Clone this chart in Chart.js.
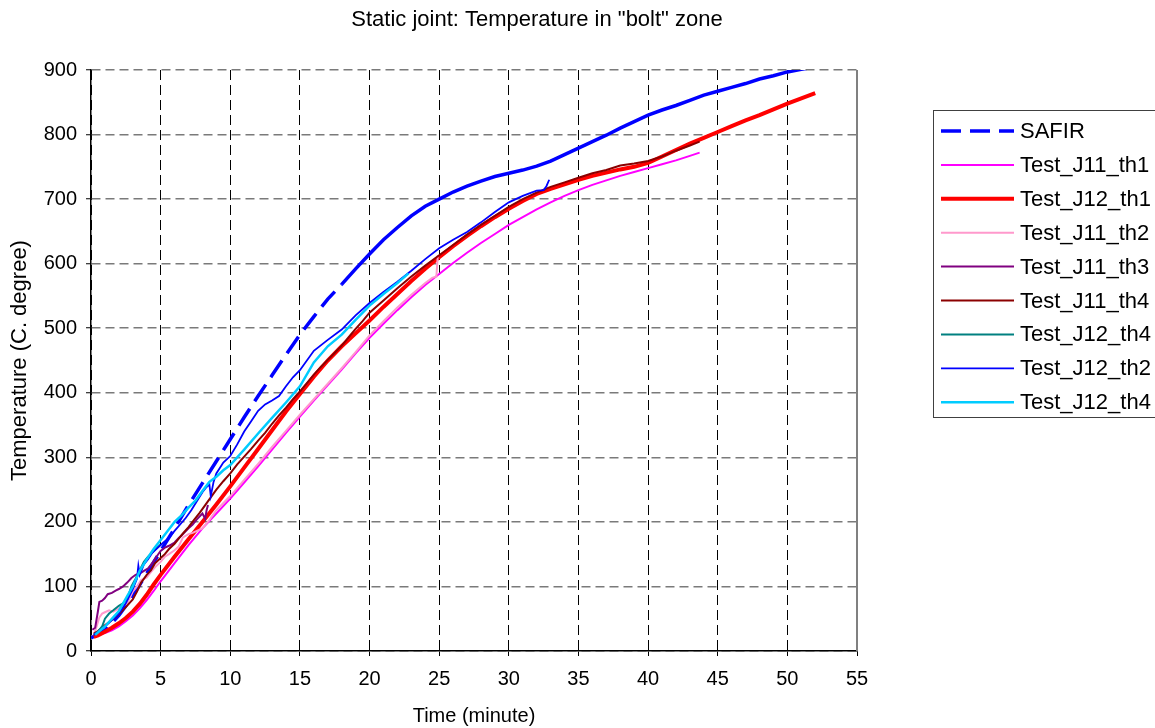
<!DOCTYPE html>
<html>
<head>
<meta charset="utf-8">
<title>Static joint: Temperature in "bolt" zone</title>
<script src="https://cdn.jsdelivr.net/npm/chart.js@4.4.1/dist/chart.umd.min.js"></script>
<style>
  html, body { margin: 0; padding: 0; background: #fff; }
  canvas { display: block; }
</style>
</head>
<body>
<canvas id="chart" width="1155" height="728"></canvas>
<script>
// Axis ticks
const xTicks = [0, 5, 10, 15, 20, 25, 30, 35, 40, 45, 50, 55];
const yTicks = [0, 100, 200, 300, 400, 500, 600, 700, 800, 900];

// SAFIR simulation (time in minutes, temperature in °C)
const safirMin  = [0, 1, 2, 3, 4, 5, 6, 7, 8, 9, 10, 11, 12, 13, 14, 15, 16, 17, 18, 19, 20, 21, 22, 23, 24, 25, 26, 27, 28, 29, 30, 31, 32, 33, 34, 35, 36, 37, 38, 39, 40, 41, 42, 43, 44, 45, 46, 47, 48, 49, 50, 51, 52];
const safirTemp = [20, 32, 55, 85, 120, 155, 190, 226, 260, 294, 328, 362, 395, 427, 459, 490, 518, 545, 568, 592, 615, 637, 656, 674, 689, 700, 711, 720, 728, 735, 740, 745, 751, 759, 769, 779, 789, 799, 810, 820, 830, 838, 845, 853, 861, 867, 873, 879, 886, 891, 897, 901, 905];

// Test_J11_th1
const j11th1Min  = [0.3, 1, 1.5, 2, 2.5, 3, 3.5, 4, 4.5, 5, 6, 7, 8, 9, 10, 11, 12, 13, 14, 15, 16, 17, 18, 19, 20, 21, 22, 23, 24, 25, 26, 27, 28, 29, 30, 31, 32, 33, 34, 35, 36, 37, 38, 39, 40, 41, 42, 43, 43.7];
const j11th1Temp = [25, 28, 32, 38, 46, 55, 66, 79, 93, 108, 136, 164, 190, 213, 236, 261, 286, 312, 338, 363, 388, 412, 436, 461, 485, 507, 528, 548, 567, 584, 601, 617, 632, 646, 660, 672, 684, 695, 705, 714, 722, 729, 736, 742, 748, 754, 760, 767, 772];

// Test_J12_th1
const j12th1Min  = [0.2, 0.5, 1, 1.5, 2, 2.5, 3, 3.5, 4, 4.5, 5, 6, 7, 8, 9, 10, 11, 12, 13, 14, 15, 16, 17, 18, 19, 20, 21, 22, 23, 24, 25, 26, 27, 28, 29, 30, 31, 32, 33, 34, 35, 36, 37, 38, 39, 40, 41, 42, 43, 44, 45, 46, 47, 48, 49, 50, 51, 52];
const j12th1Temp = [22, 24, 30, 36, 43, 51, 61, 73, 87, 103, 118, 146, 173, 200, 227, 255, 284, 313, 342, 371, 398, 425, 450, 472, 492, 512, 533, 553, 573, 592, 610, 627, 643, 658, 672, 685, 697, 708, 716, 723, 730, 736, 741, 746, 750, 756, 766, 776, 786, 795, 804, 813, 822, 830, 839, 848, 856, 864];

// Test_J11_th2
const j11th2Min  = [0.2, 0.4, 0.6, 0.8, 1, 1.3, 1.6, 2, 2.3, 2.6, 3, 3.3, 3.6, 4, 4.3, 4.6, 5, 5.3, 5.6, 6, 6.3, 6.6, 7, 7.3, 7.6, 8, 8.5, 9, 10, 11, 12, 13, 14, 15, 16, 17, 18, 19, 20, 21, 22, 23, 24, 24.5, 24.8, 24.9];
const j11th2Temp = [25, 38, 52, 58, 60, 63, 61, 66, 70, 74, 92, 100, 110, 114, 122, 130, 138, 146, 150, 156, 162, 176, 181, 183, 186, 190, 203, 218, 240, 265, 290, 316, 341, 366, 390, 414, 438, 463, 489, 511, 532, 552, 570, 578, 580, 613];

// Test_J11_th3
const j11th3Min  = [0.1, 0.3, 0.5, 0.6, 0.8, 1, 1.2, 1.5, 1.8, 2, 2.3, 2.6, 2.9, 3.2, 3.5, 3.8, 4.1, 4.4, 4.7, 5, 5.3, 5.6, 6, 6.3, 6.6, 7, 7.3, 7.6, 8, 8.2, 8.3, 8.4];
const j11th3Temp = [33, 36, 62, 76, 78, 82, 88, 90, 94, 96, 100, 106, 113, 118, 120, 124, 128, 136, 146, 155, 160, 163, 168, 175, 181, 190, 196, 204, 213, 205, 218, 226];

// Test_J11_th4
const j11th4Min  = [0.2, 0.5, 1, 1.5, 2, 2.5, 3, 3.3, 3.6, 4, 4.3, 4.6, 5, 5.3, 5.6, 6, 6.3, 6.6, 7, 7.4, 7.8, 8.2, 8.6, 9, 9.5, 10, 10.5, 11, 11.5, 12, 12.5, 13, 13.5, 14, 14.5, 15, 15.5, 16, 16.5, 17, 17.5, 18, 18.5, 19, 19.5, 20, 21, 22, 23, 24, 25, 26, 27, 28, 29, 30, 31, 32, 33, 34, 35, 36, 37, 38, 39, 40, 41, 42, 43, 43.7];
const j11th4Temp = [27, 31, 40, 48, 57, 68, 80, 92, 106, 118, 125, 136, 144, 150, 158, 166, 174, 182, 192, 203, 214, 226, 238, 250, 263, 275, 289, 301, 313, 326, 338, 352, 365, 377, 390, 402, 415, 428, 440, 451, 462, 473, 486, 499, 511, 524, 543, 562, 580, 597, 613, 629, 645, 660, 674, 688, 700, 710, 719, 726, 733, 740, 745, 752, 755, 759, 766, 775, 783, 789];

// Test_J12_th4 (teal)
const j12th4aMin  = [0.2, 0.5, 0.8, 1, 1.3, 1.6, 2, 2.3, 2.6, 2.9, 3.2, 3.5, 3.8, 4.1, 4.5, 5];
const j12th4aTemp = [25, 30, 38, 50, 58, 63, 70, 74, 80, 100, 112, 125, 138, 146, 155, 165];

// Test_J12_th2
const j12th2Min  = [0.2, 0.5, 1, 1.5, 2, 2.5, 3, 3.3, 3.4, 3.5, 3.8, 4.1, 4.4, 4.8, 5.2, 5.6, 6, 6.4, 6.8, 7.2, 7.6, 8, 8.3, 8.5, 8.6, 8.8, 9, 9.5, 10, 10.5, 11, 11.5, 12, 12.5, 13, 13.5, 14, 14.5, 15, 16, 17, 18, 19, 20, 21, 22, 23, 24, 25, 26, 27, 28, 29, 30, 31, 32, 32.5, 32.7, 32.9];
const j12th2Temp = [25, 29, 38, 48, 58, 74, 96, 112, 132, 118, 134, 142, 152, 160, 168, 175, 186, 196, 206, 218, 232, 246, 254, 258, 240, 262, 275, 292, 302, 320, 340, 356, 372, 382, 388, 395, 410, 424, 435, 465, 482, 498, 520, 539, 556, 572, 589, 607, 624, 637, 649, 664, 680, 695, 705, 713, 714, 720, 730];

// Test_J12_th4 (cyan)
const j12th4bMin  = [0.3, 1, 2, 3, 3.5, 4, 4.5, 5, 5.5, 6, 6.5, 7, 7.5, 8, 8.5, 9, 9.5, 10, 11, 12, 13, 14, 15, 16, 17, 18, 19, 20, 21, 22, 22.8];
const j12th4bTemp = [25, 38, 62, 100, 124, 142, 158, 172, 186, 200, 210, 222, 233, 248, 262, 270, 280, 288, 312, 337, 361, 385, 410, 447, 472, 490, 513, 535, 553, 570, 585];

const pairs = (xs, ys) => xs.map((x, i) => ({ x: x, y: ys[i] }));

const FONT = '"Liberation Sans", Arial, sans-serif';

const series = [
  { label: 'SAFIR',        x: safirMin,   y: safirTemp,   color: '#0000FF', width: 3.5, dash: [20, 9] },
  { label: 'Test_J11_th1', x: j11th1Min,  y: j11th1Temp,  color: '#FF00FF', width: 2 },
  { label: 'Test_J12_th1', x: j12th1Min,  y: j12th1Temp,  color: '#FF0000', width: 4 },
  { label: 'Test_J11_th2', x: j11th2Min,  y: j11th2Temp,  color: '#FF99CC', width: 2 },
  { label: 'Test_J11_th3', x: j11th3Min,  y: j11th3Temp,  color: '#800080', width: 2 },
  { label: 'Test_J11_th4', x: j11th4Min,  y: j11th4Temp,  color: '#8B0000', width: 2 },
  { label: 'Test_J12_th4', x: j12th4aMin, y: j12th4aTemp, color: '#008080', width: 2 },
  { label: 'Test_J12_th2', x: j12th2Min,  y: j12th2Temp,  color: '#0000FF', width: 1.8 },
  { label: 'Test_J12_th4', x: j12th4bMin, y: j12th4bTemp, color: '#00CCFF', width: 2.5 }
];

const datasets = series.map((s, i) => ({
  label: s.label,
  data: pairs(s.x, s.y),
  borderColor: s.color,
  backgroundColor: s.color,
  borderWidth: s.width,
  borderDash: s.dash || [],
  // the simulated curve is sparse early on (dashed look), dense afterwards
  segment: s.dash ? { borderDash: c => (c.p0.parsed.x >= 18 ? [] : undefined) } : undefined,
  pointRadius: 0,
  tension: 0,
  fill: false,
  yAxisID: 'y',
  order: series.length - i
}));

// Boxed legend at the right, built from the datasets
const boxedLegend = {
  id: 'boxedLegend',
  afterDraw(chart, args, o) {
    const ctx = chart.ctx;
    ctx.save();
    ctx.strokeStyle = '#404040';
    ctx.lineWidth = 1;
    ctx.strokeRect(o.left, o.top, o.width, o.height);
    ctx.font = o.font;
    ctx.textBaseline = 'middle';
    ctx.textAlign = 'left';
    chart.data.datasets.forEach((ds, i) => {
      const y = o.firstRow + i * o.rowGap;
      ctx.beginPath();
      ctx.strokeStyle = ds.borderColor;
      ctx.lineWidth = ds.borderWidth;
      ctx.setLineDash(ds.borderDash || []);
      ctx.moveTo(o.lineStart, y);
      ctx.lineTo(o.lineEnd, y);
      ctx.stroke();
      ctx.setLineDash([]);
      ctx.fillStyle = '#000';
      ctx.fillText(ds.label, o.textX, y + 1);
    });
    ctx.restore();
  }
};

// Solid right edge of the plot frame
const plotFrame = {
  id: 'plotFrame',
  afterDraw(chart) {
    const { ctx, chartArea: a } = chart;
    ctx.save();
    ctx.strokeStyle = '#808080';
    ctx.lineWidth = 2;
    ctx.beginPath();
    ctx.moveTo(a.right, a.top);
    ctx.lineTo(a.right, a.bottom);
    ctx.stroke();
    ctx.restore();
  }
};

new Chart(document.getElementById('chart'), {
  type: 'line',
  data: { datasets: datasets },
  plugins: [boxedLegend, plotFrame],
  options: {
    responsive: false,
    animation: false,
    devicePixelRatio: 1,
    layout: { padding: { left: 0, right: 81, top: 0, bottom: 0 } },
    plugins: {
      legend: { display: false },
      tooltip: { enabled: false },
      title: {
        display: true,
        text: 'Static joint: Temperature in "bolt" zone',
        color: '#000',
        font: { family: FONT, size: 22, weight: 'normal' },
        padding: { top: 7, bottom: 36.6 }
      },
      boxedLegend: {
        left: 933.5, top: 110.5, width: 240, height: 307,
        firstRow: 131, rowGap: 33.9,
        lineStart: 941, lineEnd: 1014, textX: 1020,
        font: '22px ' + FONT
      }
    },
    scales: {
      x: {
        type: 'linear',
        min: xTicks[0],
        max: xTicks[xTicks.length - 1],
        afterFit: s => { s.height = 77; },
        afterBuildTicks: s => { s.ticks = xTicks.map(v => ({ value: v })); },
        ticks: { color: '#000', font: { family: FONT, size: 20 }, padding: 11, maxRotation: 0 },
        grid: { color: '#000', lineWidth: 1, tickLength: 5, tickColor: '#000', tickWidth: 1 },
        border: { display: true, color: '#000', width: 1.5, dash: [10, 5] },
        title: { display: true, text: 'Time (minute)', color: '#000', font: { family: FONT, size: 20 }, padding: { top: 0, bottom: 0 } }
      },
      y: {
        type: 'linear',
        position: 'left',
        min: yTicks[0],
        max: yTicks[yTicks.length - 1],
        afterFit: s => { s.width = 91; },
        afterBuildTicks: s => { s.ticks = yTicks.map(v => ({ value: v })); },
        ticks: { color: '#000', font: { family: FONT, size: 20 }, padding: 9 },
        grid: { color: '#7a7a7a', lineWidth: 1.5, tickLength: 5, tickColor: '#000', tickWidth: 1 },
        border: { display: true, color: '#000', width: 1.5, dash: [9, 5] },
        title: { display: true, text: 'Temperature (C. degree)', color: '#000', font: { family: FONT, size: 22 }, padding: { top: 7, bottom: 0 } }
      },
      // empty band on the right that holds the legend
      legendBand: {
        type: 'linear',
        position: 'right',
        display: true,
        afterFit: s => { s.width = 217; },
        ticks: { display: false },
        grid: { display: false, drawTicks: false },
        border: { display: false }
      }
    }
  }
});
</script>
</body>
</html>
